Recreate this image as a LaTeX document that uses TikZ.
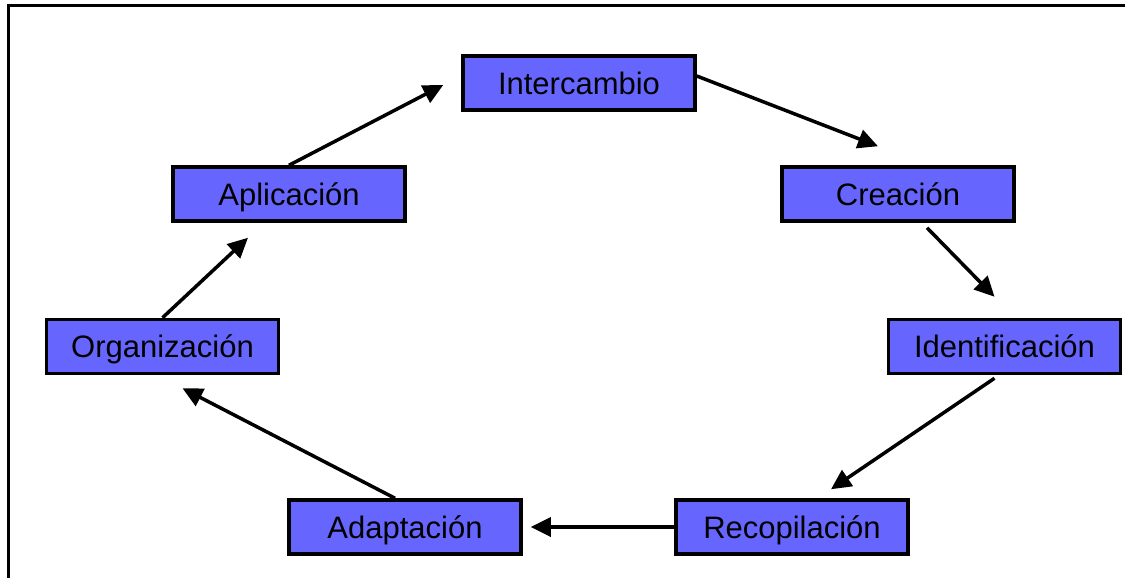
\documentclass[tikz,border=0pt]{standalone}
\usepackage{fontspec}
\setmainfont{Liberation Sans}
\usetikzlibrary{arrows.meta,calc}
\definecolor{stagefill}{RGB}{102,102,255}
\tikzset{
  stage/.style={draw=black, line width=3.5pt, fill=stagefill, rectangle,
    minimum width=232pt, minimum height=54pt, inner sep=0pt,
    text height=22.5pt, text depth=0pt,
    font=\fontsize{31}{35}\selectfont},
  flow/.style={line width=3.5pt, -{Triangle[length=20pt,width=19pt]}}
}
\begin{document}
\begin{tikzpicture}[x=1pt,y=-1pt]
\useasboundingbox (0,0) rectangle (1125,578);
% outer frame (top and left edges)
\draw[line width=3pt] (8,578) -- (8,5.5) -- (1125,5.5);

% stages of the cycle
\node[stage] (inter)  at (579,83)    {Intercambio};
\node[stage] (aplic)  at (289,194)   {Aplicación};
\node[stage] (creac)  at (898,194)   {Creación};
\node[stage] (organ)  at (162.5,346.5) {Organización};
\node[stage] (ident)  at (1004.5,346.5) {Identificación};
\node[stage] (adapt)  at (405,527)   {Adaptación};
\node[stage] (recop)  at (792,527)   {Recopilación};

% connectors
\draw[flow] (aplic.north) -- ($(inter.west)+(-18,2)$);
\draw[flow] ($(inter.east)+(0,-7)$) -- ($(creac.north)+(-20,-19)$);
\draw[flow] ($(creac.south)+(29,5)$) -- ($(ident.north)+(-10,-21)$);
\draw[flow] ($(ident.south)+(-10,3)$) -- ($(recop.north)+(39,-9)$);
\draw[flow] (recop.west) -- ($(adapt.east)+(8,0)$);
\draw[flow] ($(adapt.north)+(-10,0)$) -- ($(organ.south)+(20,13)$);
\draw[flow] (organ.north) -- ($(aplic.south)+(-41,15)$);
\end{tikzpicture}
\end{document}
